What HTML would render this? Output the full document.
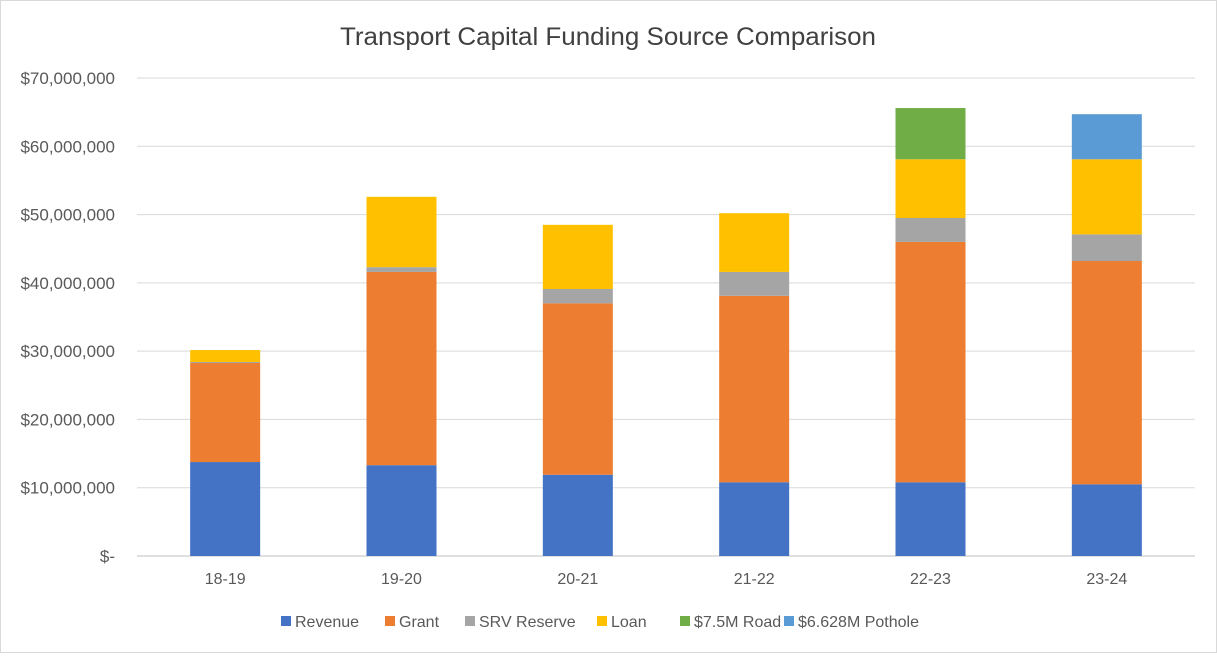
<!DOCTYPE html>
<html><head><meta charset="utf-8"><style>
html,body{margin:0;padding:0;background:#fff;}
svg text{font-family:"Liberation Sans",Arial,sans-serif;}
</style></head><body>
<svg id="chart" width="1217" height="653" xmlns="http://www.w3.org/2000/svg">
<rect x="0.5" y="0.5" width="1216" height="652" fill="#fff" stroke="#d9d9d9"/>
<text x="608" y="45" text-anchor="middle" font-size="25" fill="#404040" textLength="536" lengthAdjust="spacingAndGlyphs">Transport Capital Funding Source Comparison</text>
<g id="grid"></g><g id="bars"></g><g id="legend"></g>
</svg>
<script>
const categories=["18-19","19-20","20-21","21-22","22-23","23-24"];
const revenue=[13.76,13.3,11.9,10.8,10.8,10.5];
const grant=[14.5,28.3,25.1,27.3,35.2,32.7];
const srvReserve=[0.15,0.7,2.1,3.5,3.5,3.9];
const loan=[1.75,10.3,9.4,8.6,8.6,11.0];
const road75=[0,0,0,0,7.5,0];
const pothole=[0,0,0,0,0,6.6];
const yTicks=[0,10,20,30,40,50,60,70];
const yTickLabels=["$-","$10,000,000","$20,000,000","$30,000,000","$40,000,000","$50,000,000","$60,000,000","$70,000,000"];
const seriesNames=["Revenue","Grant","SRV Reserve","Loan","$7.5M Road","$6.628M Pothole"];
const seriesColors=["#4472c4","#ed7d31","#a5a5a5","#ffc000","#70ad47","#5b9bd5"];
const seriesData=[revenue,grant,srvReserve,loan,road75,pothole];

const NS="http://www.w3.org/2000/svg";
const x0=137,x1=1195,y0=556,yTop=78,yMax=70;
const y=v=>y0-(v/yMax)*(y0-yTop);
const band=(x1-x0)/categories.length;
const xc=i=>x0+band*(i+0.5);
const bw=70;
function mk(tag,attrs,parent){const e=document.createElementNS(NS,tag);for(const k in attrs)e.setAttribute(k,attrs[k]);parent.appendChild(e);return e;}
const grid=document.getElementById('grid');
yTicks.forEach((t,i)=>{
  const l=mk('line',{x1:x0,x2:x1,y1:y(t),y2:y(t),stroke:i===0?'#bfbfbf':'#d9d9d9','stroke-width':1},grid);
  
  
  const tx=mk('text',{x:115,y:y(t)+6,'text-anchor':'end','font-size':17,fill:'#595959'},grid);
  tx.textContent=yTickLabels[i];
  
  
});
const bars=document.getElementById('bars');
categories.forEach((c,i)=>{
  let acc=0;
  seriesData.forEach((s,j)=>{
    const v=s[i]; if(!v) return;
    const r=mk('rect',{x:xc(i)-bw/2,y:y(acc+v),width:bw,height:y(acc)-y(acc+v),fill:seriesColors[j]},bars);
    
    
    acc+=v;
  });
  const tx=mk('text',{x:xc(i),y:584,'text-anchor':'middle','font-size':16,fill:'#595959'},bars);
  tx.textContent=c;
  
  
});
const legend=document.getElementById('legend');
const lx=[281,385,465,597,680,784];
seriesNames.forEach((n,j)=>{
  const r=mk('rect',{x:lx[j],y:616,width:10,height:10,fill:seriesColors[j]},legend);
  
  
  const t=mk('text',{x:lx[j]+14,y:627,'font-size':16,fill:'#595959'},legend);
  t.textContent=n;
  
  
});
</script>
</body></html>
